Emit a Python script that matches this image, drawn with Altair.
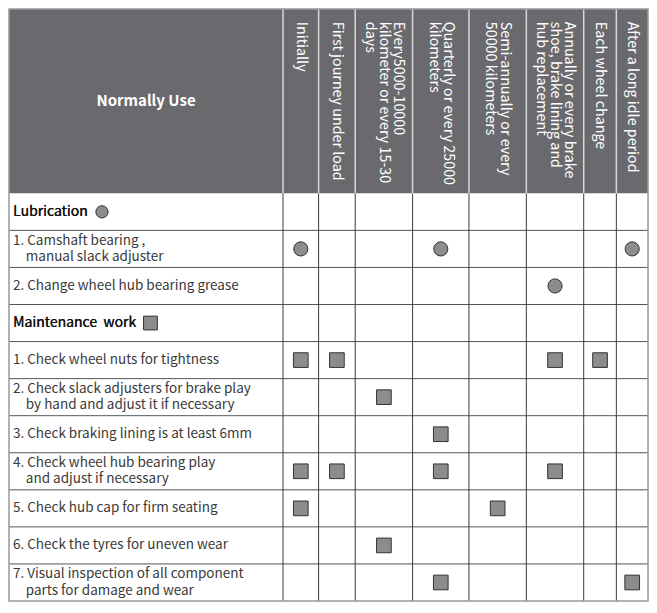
import altair as alt
import pandas as pd

# ---------------- data ----------------
header_title = "Normally Use"
col_labels = [
    "Initially",
    "First journey under load",
    "Every5000-10000\nkilometer or every 15-30\ndays",
    "Quarterly or every 25000\nkilometers",
    "Semi-annually or every\n50000 kilometers",
    "Annually or every brake\nshoe, brake lining and\nhub replacement",
    "Each wheel change",
    "After a long idle period",
]
row_labels = [
    "Lubrication",
    "1. Camshaft bearing ,\nmanual slack adjuster",
    "2. Change wheel hub bearing grease",
    "Maintenance\u00a0\u00a0work",
    "1. Check wheel nuts for tightness",
    "2. Check slack adjusters for brake play\nby hand and adjust it if necessary",
    "3. Check braking lining is at least 6mm",
    "4. Check wheel hub bearing play\nand adjust if necessary",
    "5. Check hub cap for firm seating",
    "6. Check the tyres for uneven wear",
    "7. Visual inspection of all component\nparts for damage and wear",
]
section_rows = [0, 3]
circle_rows = [1, 1, 1, 2]
circle_cols = [0, 3, 7, 5]
square_rows = [4, 4, 4, 4, 5, 6, 7, 7, 7, 7, 8, 8, 9, 10, 10]
square_cols = [0, 1, 5, 6, 2, 3, 0, 1, 3, 5, 0, 4, 2, 3, 7]

# ---------------- layout ----------------
LABEL_W = 277
COL_W = [36, 37, 58, 57, 58, 58, 33, 32]
HEAD_H = 187
ROW_H = 37.6
SECTION_SYMBOL_X = [94, 143]
FONT = "Noto Sans CJK SC"
ROW_LH = 16.5
HEAD_LH = 14.5
INDENT = 13

xe = [0, LABEL_W]
for w in COL_W:
    xe.append(xe[-1] + w)
TOTAL_W = xe[-1]
N = len(row_labels)
TOTAL_H = HEAD_H + N * ROW_H
col_cx = [(xe[i + 1] + xe[i + 2]) / 2 for i in range(len(COL_W))]
row_cy = [HEAD_H + (i + 0.5) * ROW_H for i in range(N)]

xs = alt.Scale(domain=[-1, TOTAL_W + 1], range=[0, 641])
ys = alt.Scale(domain=[-1, TOTAL_H + 1], range=[0, 594])


def X(f="x"):
    return alt.X(f, type="quantitative", scale=xs, axis=None)


def Y(f="y"):
    return alt.Y(f, type="quantitative", scale=ys, axis=None)


# header background
head_df = pd.DataFrame({"x": [0], "x2": [TOTAL_W], "y": [0], "y2": [HEAD_H]})
head_bg = alt.Chart(head_df).mark_rect(fill="#6a6a6e").encode(
    x=X(), x2="x2", y=Y(), y2="y2")

# header separators
hsep_df = pd.DataFrame({"x": xe[1:-1], "y": 0, "y2": HEAD_H})
hsep = alt.Chart(hsep_df).mark_rule(color="#d8d8d8", strokeWidth=1.5).encode(
    x=X(), y=Y(), y2="y2")

# body vertical lines
bv_df = pd.DataFrame({"x": xe[1:-1], "y": HEAD_H, "y2": TOTAL_H})
bv = alt.Chart(bv_df).mark_rule(color="#3c3c3c", strokeWidth=1).encode(
    x=X(), y=Y(), y2="y2")

# body horizontal lines
bh_df = pd.DataFrame({"y": [HEAD_H + i * ROW_H for i in range(1, N)], "x": 0, "x2": TOTAL_W})
bh = alt.Chart(bh_df).mark_rule(color="#555555", strokeWidth=1).encode(
    y=Y(), x=X(), x2="x2")

# outer border
border = alt.Chart(head_df.assign(y2=TOTAL_H)).mark_rect(
    fill=None, stroke="#999999", strokeWidth=1.5).encode(
    x=X(), x2="x2", y=Y(), y2="y2")

# header title
title_df = pd.DataFrame({"t": [header_title], "x": [LABEL_W / 2], "y": [HEAD_H / 2]})
title = alt.Chart(title_df).mark_text(
    font=FONT, fontSize=15, fontWeight="bold", color="white",
    align="center", baseline="middle").encode(x=X(), y=Y(), text="t")

# column headers (rotated), one text per line
ch_rows = []
for ci, lab in enumerate(col_labels):
    lines = lab.split("\n")
    n = len(lines)
    for li, ln in enumerate(lines):
        ch_rows.append({"t": ln, "x": col_cx[ci] + ((n - 1) / 2 - li) * HEAD_LH, "y": 13})
col_head = alt.Chart(pd.DataFrame(ch_rows)).mark_text(
    font=FONT, fontSize=14.3, color="white", angle=90, align="left",
    baseline="middle").encode(x=X(), y=Y(), text="t")

# row labels, one text per line
rl_rows = []
for ri, lab in enumerate(row_labels):
    if ri in section_rows:
        continue
    lines = lab.split("\n")
    n = len(lines)
    for li, ln in enumerate(lines):
        rl_rows.append({"t": ln, "x": 4 + (INDENT if li > 0 else 0),
                        "y": row_cy[ri] + (li - (n - 1) / 2) * ROW_LH})
rows_txt = alt.Chart(pd.DataFrame(rl_rows)).mark_text(
    font=FONT, fontSize=13.5, color="#3a3a3a", align="left",
    baseline="middle").encode(x=X(), y=Y(), text="t")

sec_df = pd.DataFrame({"t": [row_labels[r] for r in section_rows], "x": 4,
                       "y": [row_cy[r] for r in section_rows]})
sec_txt = alt.Chart(sec_df).mark_text(
    font=FONT, fontSize=14, color="#111111", align="left",
    baseline="middle").encode(x=X(), y=Y(), text="t")
sec_txt2 = alt.Chart(sec_df).mark_text(
    font=FONT, fontSize=14, color="#111111", align="left", dx=0.35,
    baseline="middle").encode(x=X(), y=Y(), text="t")

# markers
circ_df = pd.DataFrame({"x": [col_cx[c] for c in circle_cols],
                        "y": [row_cy[r] for r in circle_rows]})
circles = alt.Chart(circ_df).mark_point(
    shape="circle", filled=True, size=200, fill="#8c8c8c", stroke="#333333",
    strokeWidth=1, opacity=1).encode(x=X(), y=Y())

sq_df = pd.DataFrame({"x": [col_cx[c] for c in square_cols],
                      "y": [row_cy[r] for r in square_rows]})
squares = alt.Chart(sq_df).mark_point(
    shape="square", filled=True, size=215, fill="#8c8c8c", stroke="#333333",
    strokeWidth=1, opacity=1).encode(x=X(), y=Y())

# section symbols
sym_circle = alt.Chart(pd.DataFrame({"x": [SECTION_SYMBOL_X[0]], "y": [row_cy[section_rows[0]]]})).mark_point(
    shape="circle", filled=True, size=150, fill="#8c8c8c", stroke="#333333",
    strokeWidth=1, opacity=1).encode(x=X(), y=Y())
sym_square = alt.Chart(pd.DataFrame({"x": [SECTION_SYMBOL_X[1]], "y": [row_cy[section_rows[1]]]})).mark_point(
    shape="square", filled=True, size=190, fill="#8c8c8c", stroke="#333333",
    strokeWidth=1, opacity=1).encode(x=X(), y=Y())

chart = alt.layer(
    head_bg, bh, bv, hsep, border, title, col_head, rows_txt, sec_txt, sec_txt2,
    circles, squares, sym_circle, sym_square
).properties(
    width=641, height=594, padding=0, autosize=alt.AutoSizeParams(type="none")
).configure_view(stroke=None)

chart.save("out.html", embed_options={"renderer": "svg", "actions": False})
